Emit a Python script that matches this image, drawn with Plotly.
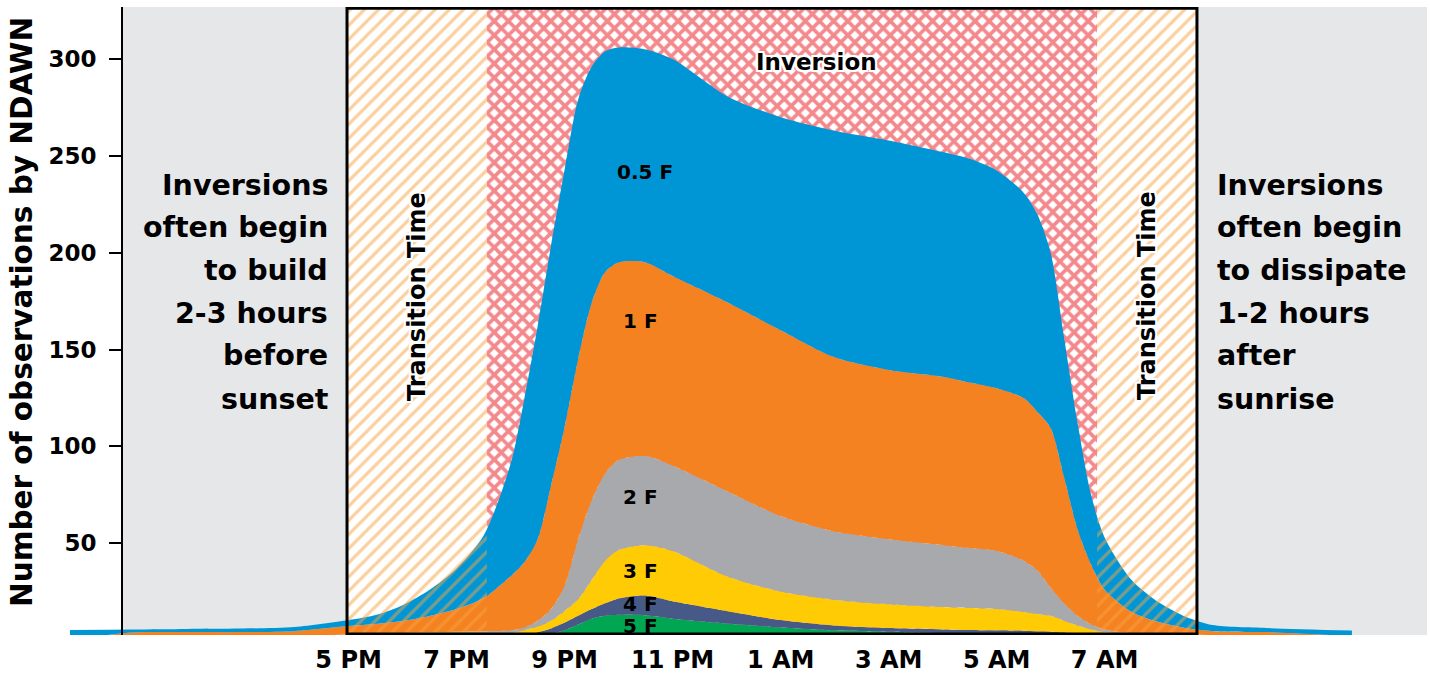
import plotly.graph_objects as go

# ---------------- data ----------------
# x positions in clock hours (17 = 5 PM, 24 = midnight, 31 = 7 AM)
hours = [11.84, 13, 14, 15, 16, 17, 17.5, 18, 18.5, 19, 19.5, 20, 20.25, 20.5, 20.75,
         21, 21.25, 21.5, 21.75, 22, 22.5, 23, 24, 25, 26, 27, 28, 28.5, 29, 29.5,
         29.75, 30, 30.25, 30.5, 30.75, 31, 31.5, 32, 32.5, 33, 34, 35.58]

obs_5F = [0, 0, 0, 0, 0, 0, 0, 0, 0, 0, 0, 0, 0.5, 2, 3, 5, 8, 11, 12.5, 13, 12.8, 11,
          8.5, 6.5, 5, 4.3, 3.5, 3.2, 3, 2.8, 2.7, 2.6, 2.4, 2, 1.8, 1.5, 1, 0.5, 0, 0,
          0, 0]
obs_4F = [0, 0, 0, 0, 0, 0, 0, 0, 0, 0.5, 1, 2, 2.3, 2, 3, 4, 4.5, 5, 6.5, 8.5, 10.2, 9,
          6.5, 3.8, 2.5, 1.9, 2, 2, 2, 2, 1.8, 1.7, 1.6, 1.5, 1.4, 1.5, 1.5, 1.5, 1, 0,
          0, 0]
obs_3F = [0, 0, 0, 0, 0, 0, 0, 0, 0.5, 1, 1.5, 1.5, 2.2, 3, 4, 6, 8.5, 15, 22, 25, 26,
          26, 18, 14.7, 13.2, 12.3, 11.5, 11.3, 11, 9.7, 9, 8.2, 6, 4, 2.3, 1, 0.5, 0.5,
          0.5, 0.5, 0, 0]
obs_2F = [0, 0, 0.5, 1, 1.5, 3, 3.3, 3.6, 3.5, 2.8, 2.1, 1.5, 1.5, 3, 6, 13, 31, 41, 45,
          46.5, 46, 44, 44, 39, 35.3, 33.5, 32, 31, 30, 26.5, 22.5, 14.5, 9, 5, 2.5, 1.5,
          0.5, 0.5, 1.3, 2, 1, 0]
obs_1F = [0, 3.9, 3.6, 3.1, 3.1, 4.2, 5, 6.2, 8.4, 11.7, 17.1, 28, 33.5, 42, 64, 82, 93,
          102, 104, 102, 100, 98, 97.6, 96, 90, 87.5, 87, 85.5, 84, 84, 82, 82.5, 65,
          44.5, 31, 20.5, 11, 6.3, 3.4, 2.1, 3.1, 2]
obs_05F = [5.2, 1.5, 1.6, 1.8, 2.1, 3.1, 4.6, 8.2, 13.6, 21, 32.3, 58, 84, 110, 124, 133,
           134, 122, 114, 111, 110, 112, 106.4, 110, 117, 118.5, 116, 115.5, 112.5, 106,
           102, 90.5, 72, 55, 36, 27, 16.5, 10.2, 5.8, 3.1, 2.1, 2.9]

series_names = ["5 F", "4 F", "3 F", "2 F", "1 F", "0.5 F"]
series_values = [obs_5F, obs_4F, obs_3F, obs_2F, obs_1F, obs_05F]
series_colors = ["#00a651", "#475a87", "#ffcb05", "#a7a9ac", "#f58220", "#0096d6"]
label_hours = [22.4, 22.4, 22.4, 22.4, 22.4, 22.49]
label_values = [7.2, 18.4, 35.4, 73.9, 165.0, 241.7]

tick_hours = [17, 19, 21, 23, 25, 27, 29, 31]
tick_labels = ["5 PM", "7 PM", "9 PM", "11 PM", "1 AM", "3 AM", "5 AM", "7 AM"]
y_ticks = [50, 100, 150, 200, 250, 300]

# zones (hours)
shade_start, shade_end = 12.81, 36.97
panel_start, panel_end = 16.97, 32.71
inversion_start, inversion_end = 19.56, 30.86
x_range = [11.84, 36.97]
y_range = [2.6, 326.9]
panel_bottom, panel_top = 3.1, 326.2

FONT = "DejaVu Sans"
PLOT_W, PLOT_TOP, PLOT_BOTTOM = 1427.0, 7.0, 635.0


def px_x(p):
    return p / PLOT_W


def px_y(p):
    return (PLOT_BOTTOM - p) / (PLOT_BOTTOM - PLOT_TOP)


HALO = ", ".join(f"{dx}px {dy}px 0 #ffffff" for dx, dy in
                 [(2, 0), (-2, 0), (0, 2), (0, -2), (2, 2), (-2, -2), (2, -2), (-2, 2)])

fig = go.Figure()

# red cross-hatch for the inversion period (behind the areas)
fig.add_trace(go.Scatter(
    x=[inversion_start, inversion_end, inversion_end, inversion_start, inversion_start],
    y=[y_range[0], y_range[0], y_range[1], y_range[1], y_range[0]],
    mode="none", fill="toself", fillcolor="rgba(0,0,0,0)",
    fillpattern=dict(shape="x", fgcolor="#e8141c", bgcolor="#ffffff", size=10,
                     solidity=0.6),
    hoverinfo="skip", showlegend=False))

# stacked areas
for name, vals, col in zip(series_names, series_values, series_colors):
    fig.add_trace(go.Scatter(
        x=hours, y=vals, name=name, stackgroup="obs", mode="lines",
        line=dict(width=0, shape="spline", smoothing=0.8, color=col),
        fillcolor=col, hoverinfo="skip", showlegend=False))

# orange hatch for transition periods (on top of the areas)
for a, b in [(panel_start, inversion_start), (inversion_end, panel_end)]:
    fig.add_trace(go.Scatter(
        x=[a, b, b, a, a],
        y=[y_range[0], y_range[0], y_range[1], y_range[1], y_range[0]],
        mode="none", fill="toself", fillcolor="rgba(0,0,0,0)",
        fillpattern=dict(shape="/", fgcolor="#f8a23f", bgcolor="rgba(0,0,0,0)",
                         size=10, solidity=0.32),
        hoverinfo="skip", showlegend=False))

shapes = [
    dict(type="rect", xref="x", yref="paper", x0=shade_start, x1=shade_end, y0=0, y1=1,
         fillcolor="#e6e7e8", line=dict(width=0), layer="below"),
    dict(type="rect", xref="x", yref="y", x0=panel_start, x1=panel_end,
         y0=panel_bottom, y1=panel_top, fillcolor="#ffffff", line=dict(width=0),
         layer="below"),
    dict(type="rect", xref="x", yref="y", x0=panel_start, x1=panel_end,
         y0=panel_bottom, y1=panel_top, fillcolor="rgba(0,0,0,0)",
         line=dict(width=3, color="#000000"), layer="above"),
]

annotations = []
bold = dict(family=FONT, color="#000000", weight="bold")

# area labels
for name, hx, vy in zip(series_names, label_hours, label_values):
    annotations.append(dict(x=hx, y=vy, xref="x", yref="y", text=name, showarrow=False,
                            xanchor="center", yanchor="middle",
                            font=dict(size=20, **bold)))

left_lines = ["Inversions", "often begin", "to build", "2-3 hours", "before", "sunset"]
right_lines = ["Inversions", "often begin", "to dissipate", "1-2 hours", "after", "sunrise"]
line_y = [185, 227, 270, 313, 356, 399]
for t, yy in zip(left_lines, line_y):
    annotations.append(dict(x=px_x(330), y=px_y(yy), xref="paper", yref="paper", text=t,
                            showarrow=False, xanchor="right", yanchor="middle",
                            font=dict(size=28.5, **bold)))
for t, yy in zip(right_lines, line_y):
    annotations.append(dict(x=px_x(1215), y=px_y(yy), xref="paper", yref="paper", text=t,
                            showarrow=False, xanchor="left", yanchor="middle",
                            font=dict(size=28.5, **bold)))

for cx in [417, 1147]:
    annotations.append(dict(x=px_x(cx), y=px_y(296), xref="paper", yref="paper",
                            text="Transition Time", textangle=-90, showarrow=False,
                            xanchor="center", yanchor="middle",
                            font=dict(size=24, shadow=HALO, **bold)))

annotations.append(dict(x=px_x(816), y=px_y(62), xref="paper", yref="paper",
                        text="Inversion", showarrow=False, xanchor="center",
                        yanchor="middle", font=dict(size=23, shadow=HALO, **bold)))

annotations.append(dict(x=px_x(22), y=px_y(312), xref="paper", yref="paper",
                        text="Number of observations by NDAWN", textangle=-90,
                        showarrow=False, xanchor="center", yanchor="middle",
                        font=dict(size=29.5, **bold)))

fig.update_layout(
    width=1430, height=675,
    margin=dict(l=0, r=3, t=7, b=40),
    paper_bgcolor="#ffffff", plot_bgcolor="#ffffff",
    shapes=shapes, annotations=annotations,
    xaxis=dict(domain=[px_x(70), 1], range=x_range, tickvals=tick_hours,
               ticktext=tick_labels, showgrid=False, zeroline=False, showline=False,
               ticks="", ticklabelstandoff=8,
               tickfont=dict(size=24, **bold), fixedrange=True),
    yaxis=dict(range=y_range, anchor="free", position=px_x(122), tickvals=y_ticks,
               showgrid=False, zeroline=False, showline=True, linecolor="#000000",
               linewidth=2, ticks="outside", ticklen=12, tickwidth=2,
               tickcolor="#000000", ticklabelstandoff=8,
               tickfont=dict(size=23, **bold), fixedrange=True),
)

fig.write_html("out.html", config={"displayModeBar": False},
               post_script="document.body.style.margin='0';")
